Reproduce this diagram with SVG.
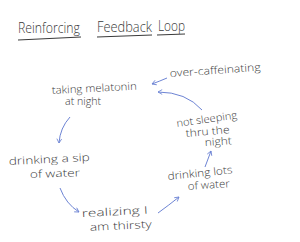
<svg xmlns="http://www.w3.org/2000/svg" width="300" height="242" viewBox="0 0 300 242">
<defs>
<marker id="ah" viewBox="0 0 10 10" refX="8" refY="5" markerWidth="6" markerHeight="6" orient="auto-start-reverse" markerUnits="userSpaceOnUse">
<path d="M1,1 L8,5 L1,9" fill="none" stroke="#6d84d4" stroke-width="1.4"/>
</marker>
</defs>
<style>
.t{font-family:"Open Sans","DejaVu Sans",sans-serif;font-weight:300;fill:#3a3a3a;font-size:10.5px}
.h{font-family:"Open Sans","DejaVu Sans",sans-serif;font-weight:300;fill:#3a3a3a;font-size:15px}
.u{stroke:#3a3a3a;stroke-width:1;fill:none}
.c{stroke:#6d84d4;stroke-width:1;fill:none;marker-end:url(#ah)}
</style>
<rect width="300" height="242" fill="#ffffff"/>
<g id="title">
<text class="h" x="18" y="33" textLength="62" lengthAdjust="spacingAndGlyphs">Reinforcing</text>
<text class="h" x="97" y="32" textLength="55" lengthAdjust="spacingAndGlyphs">Feedback</text>
<text class="h" x="158" y="31" textLength="27" lengthAdjust="spacingAndGlyphs">Loop</text>
<path class="u" d="M18,40 L81,37"/>
<path class="u" d="M97,37 L152,35"/>
<path class="u" d="M157,35 L185,34"/>
</g>
<g id="over-caffeinating">
<text class="t" x="170" y="77" textLength="91" lengthAdjust="spacingAndGlyphs" transform="rotate(-4 170 77)">over-caffeinating</text>
</g>
<g id="taking-melatonin">
<text class="t" x="52" y="94" textLength="85" lengthAdjust="spacingAndGlyphs" transform="rotate(-3 52 94)">taking melatonin</text>
<text class="t" x="65" y="105" textLength="36" lengthAdjust="spacingAndGlyphs">at night</text>
</g>
<g id="not-sleeping">
<text class="t" x="177" y="127" textLength="61" lengthAdjust="spacingAndGlyphs" transform="rotate(-8 177 127)">not sleeping</text>
<text class="t" x="186" y="137" textLength="44" lengthAdjust="spacingAndGlyphs" transform="rotate(-5 186 137)">thru the</text>
<text class="t" x="205" y="146" textLength="27" lengthAdjust="spacingAndGlyphs" transform="rotate(-4 205 146)">night</text>
</g>
<g id="drinking-sip">
<text class="t" x="9" y="165" textLength="81" lengthAdjust="spacingAndGlyphs" transform="rotate(-3 9 165)">drinking a sip</text>
<text class="t" x="30" y="178" textLength="50" lengthAdjust="spacingAndGlyphs" transform="rotate(-2 30 178)">of water</text>
</g>
<g id="realizing">
<text class="t" x="82" y="217" textLength="66" lengthAdjust="spacingAndGlyphs" transform="rotate(-3 82 217)">realizing I</text>
<text class="t" x="90" y="231" textLength="62" lengthAdjust="spacingAndGlyphs" transform="rotate(-3 90 231)">am thirsty</text>
</g>
<g id="drinking-lots">
<text class="t" x="168" y="180" textLength="65" lengthAdjust="spacingAndGlyphs" transform="rotate(-6 168 180)">drinking lots</text>
<text class="t" x="188" y="190" textLength="42" lengthAdjust="spacingAndGlyphs" transform="rotate(-4 188 190)">of water</text>
</g>
<g id="connectors">
<path class="c" d="M167,78 Q160,81 152,84"/>
<path class="c" d="M202,110 Q186,92 158,92"/>
<path class="c" d="M70,117 Q60,128 59,143"/>
<path class="c" d="M60,188 Q66,204 79,212"/>
<path class="c" d="M158,213 Q169,205 179,197"/>
<path class="c" d="M205,167 Q208,159 211,151"/>
</g>
</svg>
